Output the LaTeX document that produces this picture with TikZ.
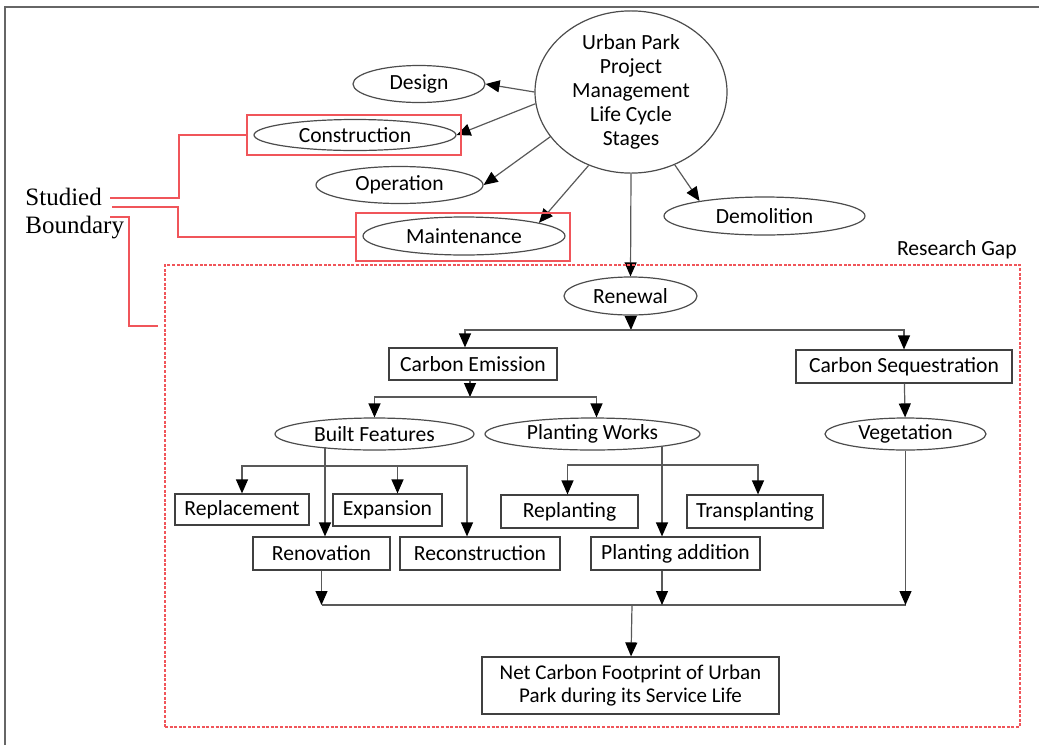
\documentclass[tikz,border=0pt]{standalone}
\usepackage{fontspec}
\setmainfont{Carlito}
\newfontfamily\boundaryfont{Liberation Serif}
\usetikzlibrary{positioning, arrows.meta, shapes}

\definecolor{zonered}{RGB}{240,85,90}

\tikzset{
  stage/.style={ellipse, draw=black!70, line width=0.6pt, inner sep=0pt},
  task/.style={rectangle, draw=black!75, line width=0.6pt, inner sep=0pt},
  link/.style={draw=black!65, line width=0.6pt},
  arr/.style={link, -{Triangle[width=6pt, length=7pt, color=black]}},
  zone/.style={rectangle, draw=zonered, line width=0.55pt, inner sep=0pt},
  studied/.style={draw=zonered, line width=0.55pt},
}

\begin{document}
\begin{tikzpicture}[x=0.5pt, y=-0.5pt, font=\fontsize{10.8}{12}\selectfont]
\useasboundingbox (0,0) rectangle (1039,745);
\draw[black!60, line width=1.2pt] (5,745) -- (5,7) -- (1039,7);

% life cycle stages
\node[stage, minimum width=96pt, minimum height=70pt, align=center] (stages) at (631,92) {Urban Park\\Project\\Management\\Life Cycle\\Stages};
\node[stage, minimum width=66pt, minimum height=18.5pt] (design) at (419,84) {Design};
\node[stage, minimum width=101pt, minimum height=15.5pt] (construction) at (355,135) {Construction};
\node[stage, minimum width=83.5pt, minimum height=18.5pt] (operation) at (399.5,185) {Operation};
\node[stage, minimum width=101pt, minimum height=19pt] (maintenance) at (464,236) {Maintenance};
\node[stage, minimum width=100.5pt, minimum height=19pt] (demolition) at (764.5,216) {Demolition};
\node[stage, minimum width=66.5pt, minimum height=19pt] (renewal) at (630.5,296) {Renewal};

\draw[arr] (stages.west) -- (design.east);
\draw[arr] (stages.187) -- (construction.east);
\draw[arr] (stages.209) -- (operation.east);
\draw[arr] (stages.240) -- (maintenance.10);
\draw[arr] (stages.south) -- (renewal.north);
\draw[arr] (stages.-59) -- (demolition.167);

% studied boundary and research gap
\node[zone, minimum width=107pt, minimum height=20pt] (conzone) at (354,135) {};
\node[zone, minimum width=107pt, minimum height=24pt] (maintzone) at (463,237) {};
\node[zone, dash pattern=on 1.5pt off 0.8pt, minimum width=427.5pt, minimum height=231pt] (gapzone) at (592.5,496) {};
\node[anchor=south east, inner sep=0pt] (gaplabel) at (1017,259) {Research Gap};

\node[font=\boundaryfont\fontsize{12.5}{14}\selectfont, align=left, anchor=west, inner sep=0pt] (studied) at (25,214) {Studied\\Boundary};
\coordinate (b1) at (110,198);
\coordinate (b2) at (112,207);
\coordinate (b3) at (110,217);
\coordinate (gapend) at (158,326);
\draw[studied] (b1) -- (179,198) |- (conzone.west);
\draw[studied] (b2) -- (178,207) |- (maintzone.west);
\draw[studied] (b3) -- (129,217) |- (gapend);

% renewal tree
\node[task, minimum width=84pt, minimum height=16pt] (emission) at (473,364) {Carbon Emission};
\node[task, minimum width=108pt, minimum height=16.5pt] (sequestration) at (904,366.5) {Carbon Sequestration};
\node[stage, minimum width=99.5pt, minimum height=16pt] (built) at (374.5,434) {Built Features};
\node[stage, minimum width=107.5pt, minimum height=16pt] (works) at (592.5,434) {Planting Works};
\node[stage, minimum width=80.5pt, minimum height=16pt] (vegetation) at (905.5,434) {Vegetation};

\node[task, minimum width=67pt, minimum height=15.5pt] (replacement) at (242,509.5) {Replacement};
\node[task, minimum width=54.5pt, minimum height=16pt] (expansion) at (387.5,510) {Expansion};
\node[task, minimum width=68.5pt, minimum height=16.5pt] (renovation) at (321.5,553.5) {Renovation};
\node[task, minimum width=80pt, minimum height=16.5pt] (reconstruction) at (480,553.5) {Reconstruction};
\node[task, minimum width=68.5pt, minimum height=16.5pt] (replanting) at (569.5,511.5) {Replanting};
\node[task, minimum width=68pt, minimum height=16.5pt] (transplanting) at (755,511.5) {Transplanting};
\node[task, minimum width=84.5pt, minimum height=16.5pt] (addition) at (675.5,553.5) {Planting addition};
\node[task, minimum width=148.5pt, minimum height=28.5pt, align=center, font=\fontsize{10.5}{11.5}\selectfont] (net) at (630.5,685.5) {Net Carbon Footprint of Urban\\Park during its Service Life};

\coordinate (r1) at (631,330);
\coordinate (e1) at (470,397);
\coordinate (f0) at (325,447);
\coordinate (f1) at (325,466);
\coordinate (w0) at (662,446);
\coordinate (w1) at (662,465);
\coordinate (n1) at (632,605);

\draw[arr] (renewal) -- (r1);
\draw[arr] (r1) -| ([xshift=-4pt]emission.north);
\draw[arr] (r1) -| (sequestration.north);

\draw[arr] (emission.south -| e1) -- (e1);
\draw[arr] (e1) -| (built.north);
\draw[arr] (e1) -| ([xshift=2pt]works.north);
\draw[arr] (sequestration) -- (vegetation);

\draw[arr] (f0) -- (f0 |- renovation.north);
\draw[arr] (f1) -| (replacement.north);
\draw[arr] (f1) -| ([xshift=5pt]expansion.north);
\draw[arr] (f1) -| ([xshift=-6.5pt]reconstruction.north);

\draw[arr] (w0) -- (w0 |- addition.north);
\draw[arr] (w1) -| ([xshift=-1pt]replanting.north);
\draw[arr] (w1) -| ([xshift=1.5pt]transplanting.north);

\draw[link] (renovation.south |- n1) -- (vegetation.south |- n1);
\draw[arr] (renovation.south) -- (renovation.south |- n1);
\draw[arr] (addition.south -| w0) -- (w0 |- n1);
\draw[arr] (vegetation) -- (vegetation.south |- n1);
\draw[arr] (n1) -- (net);
\end{tikzpicture}
\end{document}
